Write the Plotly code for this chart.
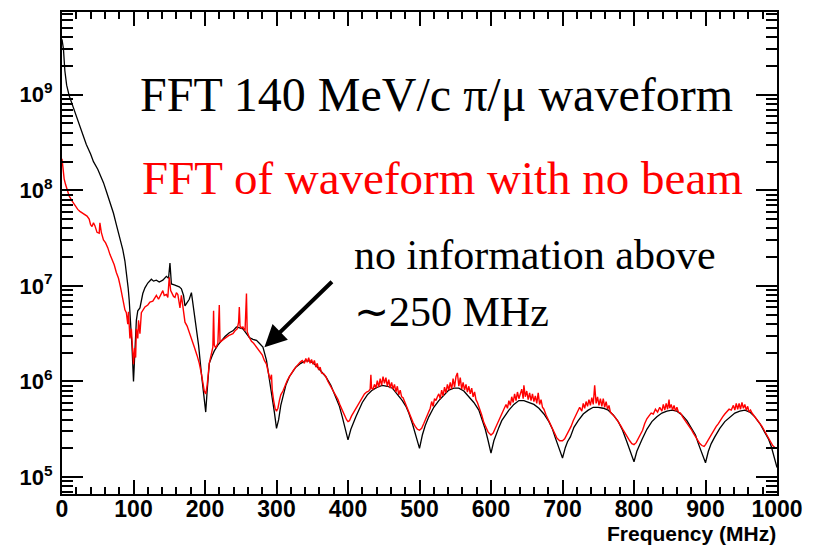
import numpy as np
import plotly.graph_objects as go

# ---------------- data (frequency in MHz, amplitude as log10) ----------------
black_f = [0, 2, 4, 6.5, 10, 16, 20, 25, 30, 34, 40, 44, 50, 53, 58, 62, 67, 72, 76, 81, 85, 88, 90, 92.5, 94, 96, 98, 100,
           102, 104, 106, 109, 113, 116, 120, 125, 128, 132, 136, 141, 146, 149, 151, 153, 157, 160, 164, 167, 170, 172, 175,
           178, 181, 184, 188, 191, 195, 198, 201, 203, 206, 210, 213, 218, 223, 228, 234, 239, 244, 248, 253, 258, 262,
           267, 272, 276, 281, 286, 290, 294, 297, 300, 303, 306, 309, 313, 318, 322, 327, 334, 341, 348, 355, 362, 369,
           376, 383, 388, 392, 396, 400, 404, 408, 411, 420, 427, 434, 441, 448, 455, 462, 469, 476, 481, 485, 490, 495,
           500, 504, 508, 513, 520, 527, 534, 541, 548, 555, 562, 569, 576, 583, 588, 592, 596, 600, 604, 608, 611, 615,
           620, 625, 632, 639, 646, 653, 660, 667, 674, 681, 686, 690, 695, 700, 704, 707, 711, 716, 722, 729, 736, 743,
           750, 757, 764, 771, 778, 784, 790, 795, 800, 804, 807, 811, 818, 825, 832, 839, 846, 853, 860, 867, 874, 881,
           886, 890, 895, 900, 904, 908, 913, 920, 927, 934, 941, 948, 955, 962, 969, 976, 983, 988, 992, 996, 1000]
black_log = [9.58, 9.48, 9.25, 9.10, 8.99, 8.86, 8.78, 8.66, 8.56, 8.48, 8.38, 8.30, 8.22, 8.17, 8.08, 7.99, 7.88, 7.76,
             7.64, 7.50, 7.38, 7.26, 7.15, 6.98, 6.85, 6.64, 6.35, 6.00,
             6.35, 6.64, 6.74, 6.77, 6.92, 6.98, 7.03, 7.07, 7.05, 7.06, 7.04, 7.06, 7.10, 7.08, 7.24, 7.02, 7.01, 7.00,
             6.99, 6.97, 6.90, 6.79, 6.83, 6.86, 6.93, 6.78, 6.56, 6.38, 6.08, 5.88, 5.68, 5.90, 6.19, 6.27, 6.32, 6.38,
             6.43, 6.47, 6.51, 6.53, 6.57, 6.56, 6.55, 6.50, 6.46, 6.44, 6.43, 6.40, 6.36, 6.22, 6.04, 5.85, 5.68, 5.51,
             5.60, 5.75, 5.84, 5.96, 6.05, 6.10, 6.15, 6.19, 6.22, 6.21, 6.17, 6.11, 6.05, 5.96, 5.84, 5.74, 5.63, 5.52,
             5.39, 5.50, 5.58, 5.63, 5.78, 5.86, 5.91, 5.94, 5.96, 5.95, 5.93, 5.87, 5.80, 5.74, 5.67, 5.56, 5.44, 5.30,
             5.44, 5.54, 5.63, 5.73, 5.80, 5.86, 5.91, 5.93, 5.93, 5.90, 5.84, 5.78, 5.70, 5.60, 5.50, 5.38, 5.25, 5.38,
             5.47, 5.52, 5.59, 5.65, 5.70, 5.76, 5.80, 5.80, 5.78, 5.76, 5.72, 5.66, 5.58, 5.50, 5.41, 5.31, 5.20, 5.31,
             5.37, 5.42, 5.52, 5.59, 5.66, 5.70, 5.73, 5.73, 5.72, 5.70, 5.65, 5.58, 5.49, 5.37, 5.27, 5.16, 5.27, 5.33,
             5.39, 5.50, 5.58, 5.63, 5.67, 5.69, 5.70, 5.69, 5.65, 5.59, 5.51, 5.44, 5.35, 5.25, 5.15, 5.27, 5.35, 5.42,
             5.51, 5.58, 5.63, 5.67, 5.69, 5.70, 5.68, 5.63, 5.56, 5.47, 5.40, 5.32, 5.22, 5.10]

red_f = [0, 1.5, 3, 5, 7, 10, 14, 18, 22, 25, 29, 32, 35, 38, 40, 42, 44, 46, 49, 52, 53, 55, 58, 61, 64, 67, 70, 73, 76,
         79, 82, 85, 88, 90, 92, 93, 95, 97, 98.5, 100, 101.5, 103, 104, 106, 107, 109, 111, 113, 116, 120, 123, 127, 130,
         132, 135, 137, 139, 141, 143, 146, 148, 150, 152, 153, 156, 158, 160, 162, 163, 165, 167, 169, 172, 175, 179, 182,
         185, 189, 192, 195, 197, 199, 201, 203, 206, 209, 211, 212, 213, 215, 218, 220, 221, 224, 227, 230, 233, 236, 239,
         242, 245, 247, 248, 249, 251, 253, 256, 258, 259, 262, 265, 268, 272, 276, 280, 283, 286, 289, 291, 293, 294, 296,
         298, 300, 302, 304, 306, 309, 312, 315, 318, 321, 324, 327, 330, 333, 336, 339, 341, 343, 345, 347, 349, 351, 353,
         355, 357, 359, 361, 363, 366, 369, 372, 376, 380, 383, 386, 389, 392, 395, 398, 400, 402, 405, 408, 411, 414, 417,
         420, 423, 426, 429, 431, 432, 433, 435, 437, 439, 441, 443, 445, 447, 449, 451, 453, 455, 457, 459, 461, 463, 465,
         467, 469, 471, 473, 475, 477, 479, 482, 485, 488, 491, 494, 497, 500, 503, 506, 509, 512, 515, 517, 519, 521, 523,
         525, 527, 529, 531, 533, 535, 537, 539, 541, 543, 545, 547, 549, 551, 553, 555, 557, 559, 561, 563, 565, 567, 569,
         571, 573, 575, 577, 579, 581, 584, 587, 590, 593, 596, 600, 603, 606, 609, 612, 615, 618, 621, 623, 625, 627, 629,
         631, 633, 635, 637, 639, 641, 643, 645, 646, 648, 650, 652, 654, 656, 658, 660, 662, 664, 666, 668, 670, 672, 674,
         677, 680, 683, 686, 689, 692, 696, 700, 703, 706, 709, 712, 715, 718, 721, 724, 727, 729, 731, 733, 735, 737, 739,
         741, 743, 745, 747, 749, 751, 753, 755, 757, 759, 761, 763, 765, 767, 770, 773, 776, 779, 782, 785, 788, 791, 794,
         797, 800, 803, 806, 809, 812, 815, 818, 821, 824, 827, 830, 833, 836, 839, 841, 843, 845, 847, 849, 850, 852, 854,
         856, 858, 860, 862, 865, 868, 871, 874, 877, 880, 883, 886, 889, 892, 895, 898, 900, 903, 906, 909, 912, 915, 918,
         921, 924, 927, 930, 933, 936, 939, 941, 943, 945, 947, 949, 951, 953, 955, 957, 959, 961, 963, 965, 967, 970, 973,
         976, 979, 982, 985, 988, 991, 994, 997, 1000]
red_log = [8.33, 8.22, 8.12, 8.06, 8.01, 7.94, 7.89, 7.84, 7.80, 7.78, 7.76, 7.74, 7.73, 7.70, 7.64, 7.62, 7.66, 7.63,
           7.56, 7.55, 7.66, 7.56, 7.48, 7.45, 7.40, 7.33, 7.28, 7.22, 7.14, 7.08, 6.98, 6.88, 6.75, 6.72, 6.60, 6.73,
           6.45, 6.55, 6.30, 6.18, 6.35, 6.25, 6.55, 6.45, 6.64, 6.50, 6.72, 6.74, 6.78, 6.80, 6.83, 6.84, 6.87, 6.90,
           6.86, 6.89, 6.93, 6.95, 6.90, 6.91, 6.88, 7.09, 6.95, 6.93, 6.89, 6.88, 6.93, 6.91, 6.85, 6.77, 6.90, 6.80,
           6.62, 6.58, 6.50, 6.44, 6.36, 6.27, 6.19, 6.08, 5.98, 5.90, 5.87, 5.96, 6.19, 6.28, 6.36, 6.74, 6.38, 6.35,
           6.40, 6.80, 6.41, 6.43, 6.45, 6.46, 6.48, 6.49, 6.50, 6.53, 6.55, 6.62, 6.78, 6.58, 6.56, 6.57, 6.53, 6.92,
           6.52, 6.46, 6.42, 6.40, 6.36, 6.32, 6.28, 6.22, 6.18, 6.08, 6.02, 6.07, 5.91, 5.80, 5.72, 5.69, 5.72, 5.80,
           5.86, 5.90, 5.96, 6.01, 6.05, 6.09, 6.12, 6.15, 6.18, 6.20, 6.22, 6.19, 6.24, 6.20, 6.25, 6.19, 6.23, 6.18,
           6.22, 6.15, 6.19, 6.12, 6.15, 6.09, 6.08, 6.05, 6.00, 5.95, 5.90, 5.86, 5.81, 5.75, 5.70, 5.64, 5.60, 5.58,
           5.59, 5.64, 5.68, 5.72, 5.76, 5.80, 5.84, 5.87, 5.89, 5.90, 5.92, 6.07, 5.93, 5.92, 5.97, 5.93, 6.01, 5.94,
           6.03, 5.96, 6.05, 5.98, 6.04, 5.95, 6.02, 5.93, 5.99, 5.92, 5.97, 5.89, 5.95, 5.86, 5.91, 5.84, 5.83, 5.79,
           5.73, 5.68, 5.62, 5.57, 5.53, 5.50, 5.49, 5.51, 5.56, 5.61, 5.66, 5.72, 5.79, 5.74, 5.82, 5.80, 5.84, 5.87,
           5.82, 5.91, 5.85, 5.94, 5.88, 5.97, 5.91, 5.99, 5.92, 6.03, 5.94, 6.05, 6.09, 5.95, 6.04, 5.92, 5.99, 5.91,
           5.97, 5.89, 5.95, 5.87, 5.93, 5.84, 5.89, 5.81, 5.78, 5.72, 5.65, 5.57, 5.51, 5.47, 5.44, 5.46, 5.51, 5.56,
           5.61, 5.66, 5.70, 5.76, 5.72, 5.80, 5.75, 5.84, 5.78, 5.87, 5.80, 5.89, 5.82, 5.86, 5.92, 5.82, 5.96, 5.84,
           5.90, 5.81, 5.88, 5.80, 5.87, 5.79, 5.85, 5.77, 5.88, 5.76, 5.81, 5.73, 5.71, 5.65, 5.60, 5.55, 5.50, 5.45,
           5.41, 5.38, 5.38, 5.40, 5.44, 5.48, 5.53, 5.59, 5.64, 5.68, 5.73, 5.69, 5.77, 5.72, 5.79, 5.74, 5.81, 5.75,
           5.83, 5.76, 5.96, 5.77, 5.84, 5.75, 5.82, 5.74, 5.82, 5.73, 5.79, 5.71, 5.75, 5.68, 5.66, 5.63, 5.60, 5.57,
           5.53, 5.49, 5.45, 5.41, 5.38, 5.35, 5.34, 5.36, 5.40, 5.44, 5.49, 5.56, 5.61, 5.64, 5.67, 5.66, 5.71, 5.68,
           5.73, 5.69, 5.76, 5.70, 5.77, 5.71, 5.81, 5.72, 5.76, 5.70, 5.75, 5.69, 5.73, 5.68, 5.67, 5.63, 5.60,
           5.57, 5.54, 5.50, 5.46, 5.42, 5.38, 5.35, 5.33, 5.32, 5.34, 5.38, 5.42, 5.46, 5.50, 5.53, 5.56, 5.60, 5.63,
           5.66, 5.68, 5.71, 5.70, 5.75, 5.70, 5.77, 5.71, 5.77, 5.71, 5.78, 5.72, 5.76, 5.70, 5.74, 5.68, 5.70, 5.67,
           5.65, 5.62, 5.60, 5.57, 5.53, 5.49, 5.45, 5.41, 5.37, 5.33, 5.31]

y_tick_exponents = [5, 6, 7, 8, 9]
x_tick_values = [0, 100, 200, 300, 400, 500, 600, 700, 800, 900, 1000]

black_y = [10 ** v for v in black_log]
red_y = [10 ** v for v in red_log]

sans = "Liberation Sans, Arial, Helvetica, sans-serif"
serif = "Liberation Serif, Times New Roman, serif"

fig = go.Figure()
fig.add_trace(go.Scatter(x=black_f, y=black_y, mode="lines",
                         line=dict(color="black", width=1.3), showlegend=False))
fig.add_trace(go.Scatter(x=red_f, y=red_y, mode="lines",
                         line=dict(color="#ff0000", width=1.4), showlegend=False))

minor_y = [m * 10 ** e for e in range(4, 10) for m in range(2, 10)]

fig.update_xaxes(
    range=[0, 1000], showgrid=False, zeroline=False,
    showline=True, linecolor="black", linewidth=2, mirror="allticks",
    ticks="inside", ticklen=14, tickwidth=1.5, tickcolor="black",
    tickmode="array", tickvals=x_tick_values,
    tickfont=dict(family=sans, size=23, color="black", weight="bold"),
    ticklabelstandoff=-7,
    minor=dict(ticks="inside", dtick=20, ticklen=7, tickwidth=1.5, tickcolor="black", showgrid=False),
)
fig.update_yaxes(
    type="log", range=[4.823, 9.865], showgrid=False, zeroline=False,
    showline=True, linecolor="black", linewidth=2, mirror="allticks",
    ticks="inside", ticklen=21, tickwidth=1.5, tickcolor="black",
    tickmode="array", tickvals=[10 ** e for e in y_tick_exponents],
    ticktext=["10<sup>%d</sup>" % e for e in y_tick_exponents],
    tickfont=dict(family=sans, size=22, color="black", weight="bold"),
    ticklabelstandoff=3,
    minor=dict(ticks="inside", tickvals=minor_y, ticklen=11, tickwidth=1.5, tickcolor="black", showgrid=False),
)

L, R, T, B = 62, 34, 10, 51
W, H = 813, 545
pw, ph = W - L - R, H - T - B

def px(xp):
    return (xp - L) / pw

def py(yp):
    return (H - B - yp) / ph

annotations = [
    dict(text="FFT 140 MeV/c π/μ waveform", x=px(138), y=py(93), xanchor="left", yanchor="middle",
         font=dict(family=serif, size=48, color="black")),
    dict(text="FFT of waveform with no beam", x=px(140), y=py(177), xanchor="left", yanchor="middle",
         font=dict(family=serif, size=47, color="#ff0000")),
    dict(text="no information above", x=px(353), y=py(254), xanchor="left", yanchor="middle",
         font=dict(family=serif, size=42, color="black")),
    dict(text="∼250 MHz", x=px(353), y=py(311), xanchor="left", yanchor="middle",
         font=dict(family=serif, size=42, color="black")),
    dict(text="<b>Frequency (MHz)</b>", x=1.0, y=py(534), xanchor="right", yanchor="middle",
         font=dict(family=sans, size=21, color="black"), borderpad=0),
    dict(text="", x=px(265), y=py(346.7), showarrow=True, arrowhead=2, arrowsize=1.1, arrowwidth=4,
         arrowcolor="black", ax=69, ay=-67, axref="pixel", ayref="pixel", standoff=0),
]
for a in annotations:
    a.setdefault("showarrow", False)
    a["xref"] = "paper"
    a["yref"] = "paper"

fig.update_layout(
    width=W, height=H,
    margin=dict(l=L, r=R, t=T, b=B, pad=0),
    paper_bgcolor="white", plot_bgcolor="white",
    annotations=annotations,
)

fig.write_html("out.html")
